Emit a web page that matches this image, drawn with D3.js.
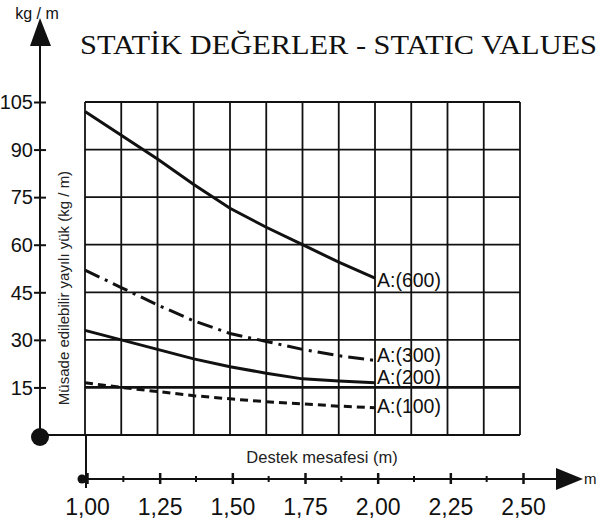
<!DOCTYPE html>
<html><head><meta charset="utf-8">
<script src="https://cdn.jsdelivr.net/npm/d3@7"></script>
<style>body{margin:0;background:#fff}svg{display:block}</style>
</head><body>
<script>
const spans = [1.0, 1.125, 1.25, 1.375, 1.5, 1.625, 1.75, 1.875, 2.0];
const a600 = [102, 94.5, 87, 79, 71.5, 65.5, 60, 54.5, 49.5];
const a300 = [52, 46.5, 41, 36, 32, 29.5, 27, 25, 23.5];
const a200 = [33, 30, 27, 24, 21.5, 19.5, 17.7, 17, 16.5];
const a100 = [16.5, 15, 13.7, 12.4, 11.4, 10.5, 9.8, 9.1, 8.6];
const seriesNames = ["A:(600)", "A:(300)", "A:(200)", "A:(100)"];
const yTicks = [15, 30, 45, 60, 75, 90, 105];
const xTicks = [1.00, 1.25, 1.50, 1.75, 2.00, 2.25, 2.50];
const title = "STATİK DEĞERLER - STATIC VALUES";
const yTitle = "Müsade edilebilir yayılı yük (kg / m)";
const xTitle = "Destek mesafesi (m)";

const W = 601, H = 522;
const svg = d3.select("body").append("svg").attr("width", W).attr("height", H);
const x = d3.scaleLinear().domain([1, 2.5]).range([85, 520]);
const xa = d3.scaleLinear().domain([1, 2.5]).range([87, 523]);
const y = d3.scaleLinear().domain([0, 105]).range([435, 102]);
const ink = "#111";

// grid
const g = svg.append("g").attr("stroke", ink).attr("stroke-width", 1.8);
d3.range(0, 13).map(i => 1 + i * 0.125).forEach(v => {
  g.append("line").attr("x1", x(v)).attr("x2", x(v)).attr("y1", y(105)).attr("y2", y(0));
});
d3.range(0, 8).map(i => i * 15).forEach(v => {
  g.append("line").attr("x1", x(1)).attr("x2", x(2.5)).attr("y1", y(v)).attr("y2", y(v))
   .attr("stroke-width", v === 15 ? 2.8 : 1.8);
});

// y axis
svg.append("line").attr("x1", 40).attr("x2", 40).attr("y1", 40).attr("y2", 437).attr("stroke", ink).attr("stroke-width", 2);
svg.append("path").attr("d", "M40,18 L30,46 L51,46 Z").attr("fill", ink);
svg.append("circle").attr("cx", 40).attr("cy", 437).attr("r", 9).attr("fill", ink);
svg.append("line").attr("x1", 40).attr("x2", x(1)).attr("y1", y(0)).attr("y2", y(0)).attr("stroke", ink).attr("stroke-width", 2);
const yAxis = d3.axisLeft(y).tickValues(yTicks).tickSize(0).tickFormat(d3.format("d"));
const ya = svg.append("g").attr("transform", "translate(40,0)").call(yAxis);
ya.select(".domain").remove();
ya.selectAll(".tick").append("line").attr("x1", -6).attr("x2", 6).attr("stroke", ink).attr("stroke-width", 2);
ya.selectAll(".tick text").attr("x", -7).attr("dy", "0.34em")
  .attr("font-family", "Liberation Sans, Arial, sans-serif").attr("font-size", 20).attr("fill", ink);
svg.append("text").attr("x", 37).attr("y", 19).attr("text-anchor", "middle")
  .attr("font-family", "Liberation Sans, Arial, sans-serif").attr("font-size", 16).attr("fill", ink).text("kg / m");

// x axis
const axY = 479;
svg.append("line").attr("x1", xa(1) - 1).attr("x2", xa(1) - 1).attr("y1", y(0)).attr("y2", 488).attr("stroke", ink).attr("stroke-width", 2);
svg.append("line").attr("x1", 82).attr("x2", 565).attr("y1", axY).attr("y2", axY).attr("stroke", ink).attr("stroke-width", 2);
svg.append("circle").attr("cx", 82).attr("cy", axY).attr("r", 4.5).attr("fill", ink);
svg.append("path").attr("d", `M583,${axY} L556,${axY - 11} L556,${axY + 11} Z`).attr("fill", ink);
svg.append("text").attr("x", 584).attr("y", axY + 5).attr("font-family", "Liberation Sans, Arial, sans-serif")
  .attr("font-size", 15).attr("fill", ink).text("m");
const minorTicks = d3.range(0, 6).map(i => 1.125 + i * 0.25);
svg.append("g").selectAll("line.minor").data(minorTicks).join("line")
  .attr("x1", d => xa(d)).attr("x2", d => xa(d)).attr("y1", axY - 3).attr("y2", axY + 3)
  .attr("stroke", ink).attr("stroke-width", 2);
const xAxis = d3.axisBottom(xa).tickValues(xTicks).tickSize(0).tickFormat(d => d3.format(".2f")(d).replace(".", ","));
const xg = svg.append("g").attr("transform", `translate(0,${axY})`).call(xAxis);
xg.select(".domain").remove();
xg.selectAll(".tick").append("line").attr("y1", -6).attr("y2", 5).attr("stroke", ink).attr("stroke-width", 2.5);
xg.selectAll(".tick text").attr("y", 36).attr("dy", 0)
  .attr("font-family", "Liberation Sans, Arial, sans-serif").attr("font-size", 23).attr("fill", ink);

// titles
svg.append("text").attr("x", 80).attr("y", 54).attr("font-family", "Liberation Serif, Times New Roman, serif")
  .attr("font-size", 28).attr("fill", ink).attr("textLength", 517).attr("lengthAdjust", "spacingAndGlyphs").text(title);
svg.append("text").attr("transform", "translate(69,288) rotate(-90)").attr("text-anchor", "middle")
  .attr("font-family", "Liberation Sans, Arial, sans-serif").attr("font-size", 15).attr("fill", "#222").text(yTitle);
svg.append("text").attr("x", 322).attr("y", 463).attr("text-anchor", "middle")
  .attr("font-family", "Liberation Sans, Arial, sans-serif").attr("font-size", 16.5).attr("fill", "#222").text(xTitle);

// curves
const line = d3.line().x((d, i) => x(spans[i])).y(d => y(d));
const series = [
  {vals: a600, dash: null, ly: 287},
  {vals: a300, dash: "16,6,3,6", ly: 362},
  {vals: a200, dash: null, ly: 384},
  {vals: a100, dash: "8,5", ly: 413}
];
series.forEach((s, k) => {
  svg.append("path").attr("d", line(s.vals)).attr("fill", "none").attr("stroke", ink)
    .attr("stroke-width", 3).attr("stroke-dasharray", s.dash);
  svg.append("text").attr("x", 377).attr("y", s.ly)
    .attr("font-family", "Liberation Sans, Arial, sans-serif").attr("font-size", 19.5).attr("fill", ink)
    .text(seriesNames[k]);
});
</script>
</body></html>
